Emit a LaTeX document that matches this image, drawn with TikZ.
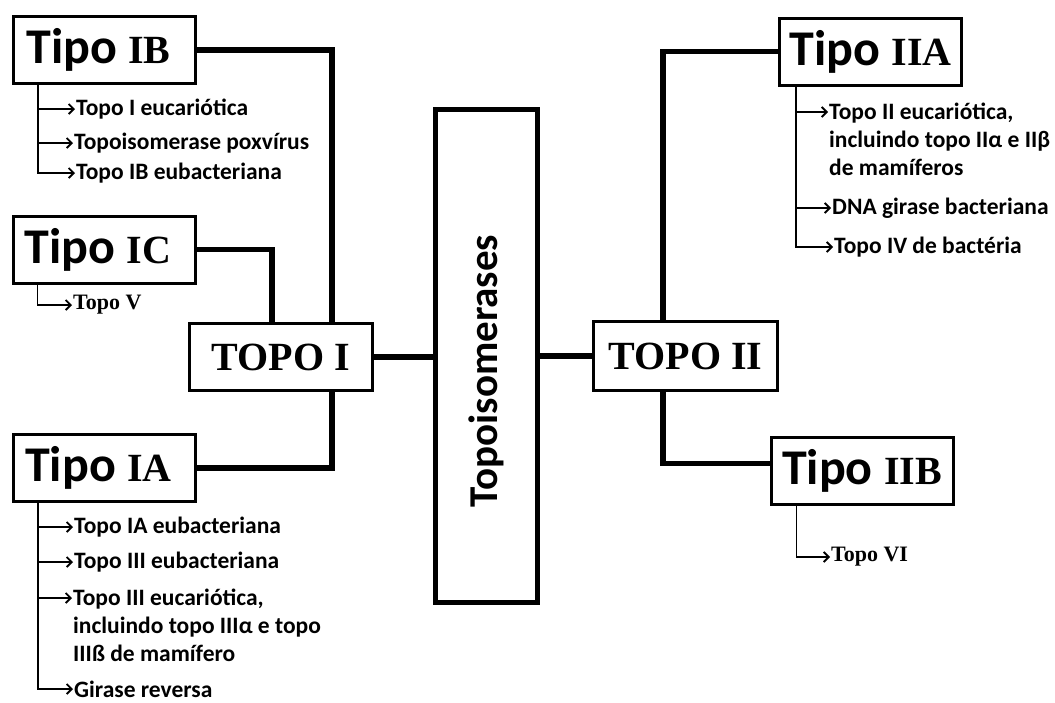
\documentclass[tikz,border=0pt]{standalone}
\usepackage{fontspec}
\newfontfamily\calibrifont{Carlito}
\newfontfamily\timesfont{Liberation Serif}
\usetikzlibrary{arrows.meta,positioning}
\newcommand{\tipolabel}[1]{{\calibrifont\bfseries\fontsize{50}{54}\selectfont Tipo\ }{\timesfont\bfseries\fontsize{40}{44}\selectfont #1}}

\begin{document}
\begin{tikzpicture}[x=1pt,y=-1pt,
  tipo/.style={draw,line width=3pt,minimum width=182pt,minimum height=67pt,inner sep=0pt},
  topo/.style={draw,line width=3pt,minimum width=183pt,minimum height=67pt,inner sep=0pt,
    font=\timesfont\bfseries\fontsize{40}{44}\selectfont},
  hub/.style={draw,line width=4.5pt,minimum width=102pt,minimum height=493pt,inner sep=0pt},
  item/.style={anchor=west,inner sep=1pt,font=\calibrifont\bfseries\fontsize{23.5}{28}\selectfont},
  multi/.style={item,anchor=north west,align=left},
  small/.style={anchor=west,inner sep=1pt,font=\timesfont\bfseries\fontsize{22}{24}\selectfont},
  conn/.style={line width=5.5pt},
  leaf/.style={-{Straight Barb[length=5pt,width=10pt]},line width=1.8pt}
]
\useasboundingbox (0,0) rectangle (1055,702);
% main boxes
\node[hub] (topos) at (486.5,356) {};
\node[rotate=90,font=\calibrifont\bfseries\fontsize{41}{44}\selectfont] (toposlabel) at (486.5,371) {Topoisomerases};
\node[topo] (topo1) at (281,357) {TOPO I};
\node[topo,minimum width=184pt,minimum height=69pt] (topo2) at (685.5,356) {TOPO II};
\node[tipo] (ib) at (104.5,50) {\tipolabel{IB}\hspace*{12pt}};
\node[tipo] (ic) at (104,249.5) {\tipolabel{IC}\hspace*{12pt}};
\node[tipo] (ia) at (104.5,468) {\tipolabel{IA}\hspace*{12pt}};
\node[tipo] (iia) at (870.5,51.5) {\tipolabel{IIA}};
\node[tipo] (iib) at (862,470.5) {\tipolabel{IIB}};
% leaves
\node[item] (ib1) at (75,109) {Topo I eucariótica};
\node[item] (ib2) at (73,143) {Topoisomerase poxvírus};
\node[item] (ib3) at (75,173) {Topo IB eubacteriana};
\node[small] (ic1) at (72,305) {Topo V};
\node[item] (ia1) at (73,527) {Topo IA eubacteriana};
\node[item] (ia2) at (73,562) {Topo III eubacteriana};
\node[multi] (ia3) at (72,588) {Topo III eucariótica,\\incluindo topo IIIα e topo\\IIIß de mamífero};
\node[item] (ia4) at (73,689) {Girase reversa};
\node[multi] (iia1) at (828,102) {Topo II eucariótica,\\incluindo topo IIα e IIβ\\de mamíferos};
\node[item] (iia2) at (831,208) {DNA girase bacteriana};
\node[item] (iia3) at (833,247) {Topo IV de bactéria};
\node[small] (iib1) at (830,557) {Topo VI};
% connectors
\draw[conn] (ib.east) -| ([xshift=-42pt]topo1.north east);
\draw[conn] (ic.east) -| ([xshift=-102pt]topo1.north east);
\draw[conn] (ia.east) -| ([xshift=-42pt]topo1.south east);
\draw[conn] (topo1.east) -- (topo1.east -| topos.west);
\draw[conn] (topos.east |- topo2.west) -- (topo2.west);
\draw[conn] ([xshift=71pt]topo2.north west) |- (iia.west);
\draw[conn] ([xshift=71pt]topo2.south west) |- ([yshift=7pt]iib.west);
\foreach \n in {ib1,ib2,ib3}
  \draw[leaf] ([xshift=26pt]ib.south west) |- (\n.west);
\draw[leaf] ([xshift=26pt]ic.south west) |- (ic1.west);
\foreach \n in {ia1,ia2,ia4}
  \draw[leaf] ([xshift=26pt]ia.south west) |- (\n.west);
\draw[leaf] ([xshift=26pt]ia.south west) |- ([yshift=-10pt]ia3.north west);
\draw[leaf] ([xshift=18pt]iia.south west) |- ([yshift=-10pt]iia1.north west);
\foreach \n in {iia2,iia3}
  \draw[leaf] ([xshift=18pt]iia.south west) |- (\n.west);
\draw[leaf] ([xshift=27pt]iib.south west) |- (iib1.west);
\end{tikzpicture}
\end{document}
